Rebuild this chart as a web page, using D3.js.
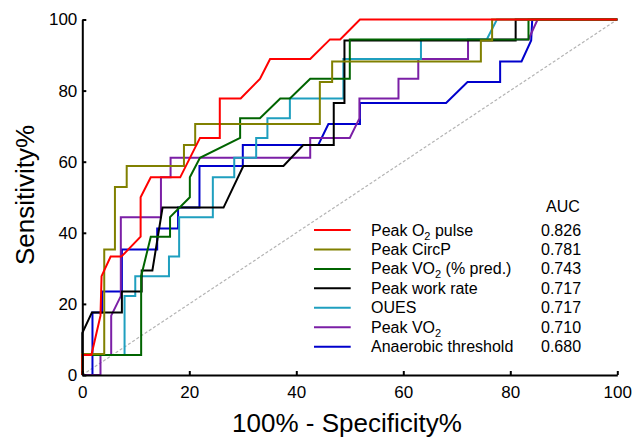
<!DOCTYPE html>
<html>
<head>
<meta charset="utf-8">
<script src="https://cdn.jsdelivr.net/npm/d3@7"></script>
<style>
body{margin:0;background:#fff;}
text{font-family:"Liberation Sans",Arial,sans-serif;fill:#000;}
</style>
</head>
<body>
<svg id="chart" width="634" height="439"></svg>
<script>
////////////////////data
var xTicks=[0,20,40,60,80,100];
var yTicks=[0,20,40,60,80,100];
var seriesNames=["Peak O_2 pulse","Peak CircP","Peak VO_2 (% pred.)","Peak work rate","OUES","Peak VO_2","Anaerobic threshold"];
var aucValues=["0.826","0.781","0.743","0.717","0.717","0.710","0.680"];
var seriesColors=["#ff0000","#808000","#006400","#000000","#1f9fbf","#7b1fa6","#0000cc"];

//100% - specificity (x) and sensitivity (y) for each curve
var o2PulseX=[0,0,1.7,3.4,3.6,5.3,7.3,10.9,10.9,12.8,18.3,22,25.7,25.7,29.6,33.2,35.1,42.6,46.3,48.2,51.9,100];
var o2PulseY=[0,5.6,5.6,16.7,27.8,33.3,33.3,38.9,50,55.6,55.6,66.7,66.7,77.8,77.8,83.3,88.9,88.9,94.4,94.4,100,100];

var circPX=[0,0,4.1,4.1,6.1,6.1,8.3,8.3,19,19,21.1,21.1,44.4,44.4,46.7,46.7,74.5,74.5,76.6,76.6,100];
var circPY=[0,5.9,5.9,35.3,35.3,52.9,52.9,58.8,58.8,64.7,64.7,70.6,70.6,82.4,82.4,88.2,88.2,94.1,94.1,100,100];

var vo2PredX=[0,0,11,11,12.8,16.4,16.4,20.1,20.1,22,29.5,29.5,33.2,37,38.8,42.6,50,50,83.4,83.4,100];
var vo2PredY=[0,5.6,5.6,27.8,38.9,38.9,44.4,50,55.6,61.1,66.7,72.2,72.2,77.8,77.8,83.3,83.3,94.4,94.4,100,100];

var workRateX=[0,0,1.8,7.4,7.4,11.1,11.1,13.1,15,26.4,30.1,37.6,41.3,47,47,49,49,81,81,100];
var workRateY=[0,11.8,17.6,17.6,23.5,23.5,29.4,29.4,47.1,47.1,58.8,58.8,64.7,64.7,76.5,76.5,94.1,94.1,100,100];

var ouesX=[0,0,7.9,7.9,9.9,9.9,16.2,16.2,18.1,18.1,24.4,24.4,28.4,28.4,32.5,32.5,34.6,34.6,38.8,38.8,48.8,48.8,63.3,63.3,75.6,77.5,100];
var ouesY=[0,5.6,5.6,22.2,22.2,27.8,27.8,33.3,33.3,44.4,44.4,55.6,55.6,61.1,61.1,66.7,66.7,72.2,72.2,77.8,77.8,88.9,88.9,94.4,94.4,100,100];

var vo2X=[0,3.4,3.4,5.4,5.4,7.2,7.2,14.7,14.7,16.5,16.5,42.6,42.6,50,51.8,51.8,59.1,59.1,62.8,62.8,72.1,72.1,83.4,85.1,100];
var vo2Y=[0,0,5.6,5.6,16.7,22.2,44.4,44.4,55.6,55.6,61.1,61.1,66.7,66.7,72.2,77.8,77.8,83.3,83.3,88.9,88.9,94.4,94.4,100,100];

var thresholdX=[0,1.9,1.9,3.7,3.7,7.4,7.4,14,14,17.9,17.9,21.9,21.9,30,30,44.1,46,51.9,51.9,68,72,78.1,78.1,82.1,83.9,84.1,100];
var thresholdY=[0,0,17.6,17.6,23.5,23.5,35.3,35.3,41.2,41.2,47.1,47.1,58.8,58.8,64.7,64.7,70.6,70.6,76.5,76.5,82.4,82.4,88.2,88.2,94.1,100,100];

var seriesX=[o2PulseX,circPX,vo2PredX,workRateX,ouesX,vo2X,thresholdX];
var seriesY=[o2PulseY,circPY,vo2PredY,workRateY,ouesY,vo2Y,thresholdY];

////////////////////chart
var svg=d3.select("#chart");
var x=d3.scaleLinear().domain([0,100]).range([82.3,617.3]);
var y=d3.scaleLinear().domain([0,100]).range([375,19.5]);

//reference diagonal
svg.append("line")
	.attr("x1",x(0)).attr("y1",y(0))
	.attr("x2",x(100)).attr("y2",y(100))
	.attr("stroke","#b4b4b4")
	.attr("stroke-width",1.2)
	.attr("stroke-dasharray","3,2");

var line=d3.line()
	.x(function(d){return x(d[0]);})
	.y(function(d){return y(d[1]);});

//draw last legend entry first so red ends up on top
for(var i=seriesNames.length-1;i>=0;i--){
	svg.append("path")
		.datum(d3.zip(seriesX[i],seriesY[i]))
		.attr("d",line)
		.attr("fill","none")
		.attr("stroke",seriesColors[i])
		.attr("stroke-width",2)
		.attr("stroke-linejoin","miter");
}

//axes, ticks point inward
var yAxis=svg.append("g")
	.attr("transform","translate("+x(0)+",0)")
	.call(d3.axisLeft(y).tickValues(yTicks).tickSizeInner(-4).tickSizeOuter(0).tickPadding(5));
var xAxis=svg.append("g")
	.attr("transform","translate(0,"+y(0)+")")
	.call(d3.axisBottom(x).tickValues(xTicks).tickSizeInner(-4).tickSizeOuter(0).tickPadding(11));

[xAxis,yAxis].forEach(function(ax){
	ax.select(".domain").attr("stroke","#000").attr("stroke-width",2);
	ax.selectAll(".tick line").attr("stroke","#000").attr("stroke-width",2);
	ax.selectAll(".tick text")
		.attr("font-family","Liberation Sans, Arial, sans-serif")
		.attr("font-size",17)
		.attr("fill","#000");
});

//axis titles
svg.append("text")
	.attr("x",347)
	.attr("y",432)
	.attr("text-anchor","middle")
	.attr("font-size",26)
	.text("100% - Specificity%");
svg.append("text")
	.attr("transform","translate(34,195) rotate(-90)")
	.attr("text-anchor","middle")
	.attr("font-size",26)
	.text("Sensitivity%");

////////////////////legend
var legendTop=230;
var legendStep=19.45;
svg.append("text")
	.attr("x",546)
	.attr("y",211.5)
	.attr("font-size",16)
	.text("AUC");

for(var j=0;j<seriesNames.length;j++){
	var ly=legendTop+j*legendStep;
	svg.append("line")
		.attr("x1",314).attr("x2",350.7)
		.attr("y1",ly).attr("y2",ly)
		.attr("stroke",seriesColors[j])
		.attr("stroke-width",2);

	var label=svg.append("text")
		.attr("x",371)
		.attr("y",ly+5.5)
		.attr("font-size",16);
	var parts=seriesNames[j].split("_2");
	label.append("tspan").text(parts[0]);
	if(parts.length>1){
		label.append("tspan").attr("font-size",11).attr("dy",4).text("2");
		label.append("tspan").attr("dy",-4).text(parts[1]);
	}

	svg.append("text")
		.attr("x",541)
		.attr("y",ly+5.5)
		.attr("font-size",16)
		.text(aucValues[j]);
}
</script>
</body>
</html>
